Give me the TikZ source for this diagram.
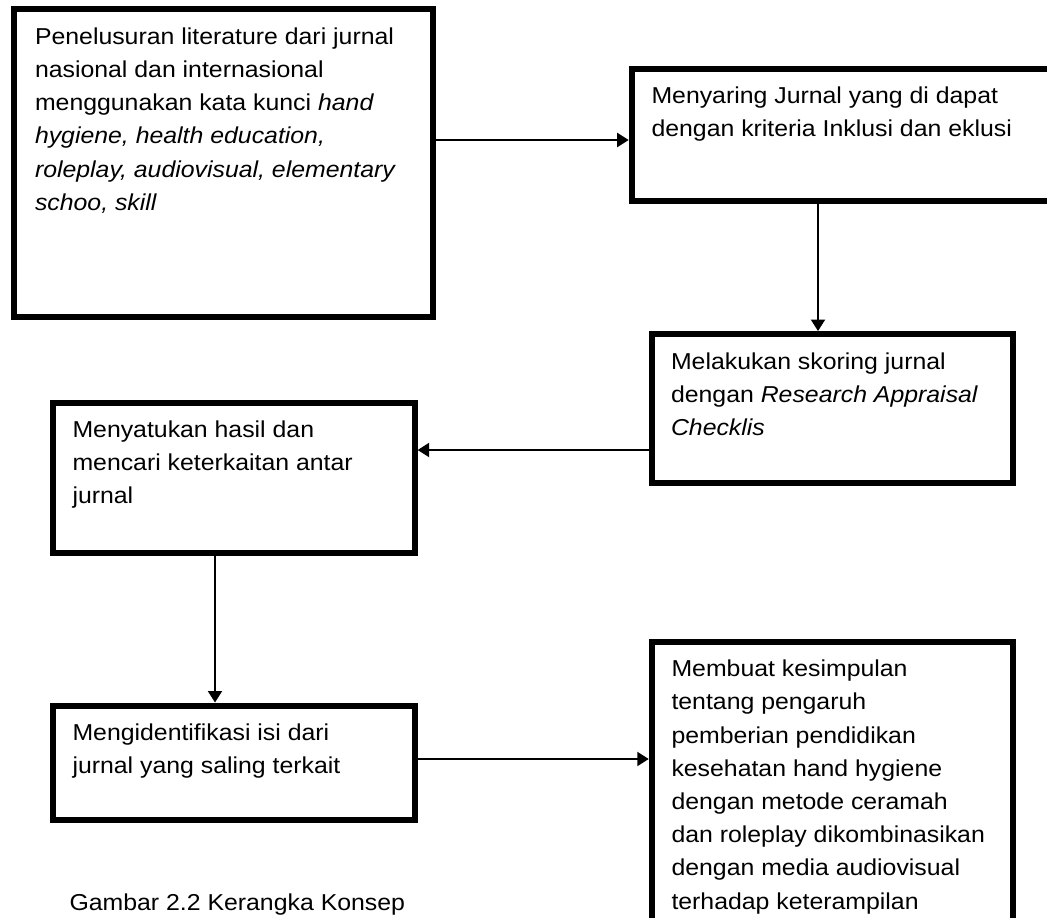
\documentclass[tikz,border=0pt]{standalone}
\usepackage{fontspec}
\setmainfont[FakeStretch=1.08]{Liberation Sans}
\usetikzlibrary{arrows.meta}
\tikzset{
  boxnode/.style={draw=black, line width=6pt, inner sep=0pt, outer sep=3pt, rectangle},
  lbl/.style={anchor=base west, inner sep=0pt, outer sep=0pt, font=\fontsize{23}{33.2}\selectfont},
  arr/.style={draw=black, line width=2pt, -{Triangle[length=11.5pt,width=14pt]}}
}
\begin{document}
\begin{tikzpicture}[x=1pt,y=-1pt]
\useasboundingbox (0,0) rectangle (1047,918);
\fill[white] (0,0) rectangle (1047,918);
\clip (0,0) rectangle (1047,918);

% boxes
\node[boxnode, minimum width=418.7pt, minimum height=307.7pt] (b1) at (223.7,163.2) {};
\node[boxnode, minimum width=438.3pt, minimum height=132pt] (b2) at (850.85,135) {};
\node[boxnode, minimum width=361.3pt, minimum height=149.3pt] (b3) at (832.4,408.7) {};
\node[boxnode, minimum width=361.7pt, minimum height=150.6pt] (b4) at (233.8,478) {};
\node[boxnode, minimum width=361.7pt, minimum height=114.8pt] (b5) at (233.8,762.9) {};
\node[boxnode, minimum width=361.3pt, minimum height=358.3pt] (b6) at (832.4,820.85) {};

% texts
\node[lbl] (t1) at (35,44.3) {\parbox[t]{420pt}{\raggedright
Penelusuran literature dari jurnal\\
nasional dan internasional\\
menggunakan kata kunci \textit{hand}\\
\textit{hygiene, health education,}\\
\textit{roleplay, audiovisual, elementary}\\
\textit{schoo, skill}}};
\node[lbl] (t2) at (651.5,103.3) {\parbox[t]{420pt}{\raggedright
Menyaring Jurnal yang di dapat\\
dengan kriteria Inklusi dan eklusi}};
\node[lbl] (t3) at (671,369.3) {\parbox[t]{360pt}{\raggedright
Melakukan skoring jurnal\\
dengan \textit{Research Appraisal}\\
\textit{Checklis}}};
\node[lbl] (t4) at (72.5,437.3) {\parbox[t]{360pt}{\raggedright
Menyatukan hasil dan\\
mencari keterkaitan antar\\
jurnal}};
\node[lbl] (t5) at (72.5,740) {\parbox[t]{360pt}{\raggedright
Mengidentifikasi isi dari\\
jurnal yang saling terkait}};
\node[lbl] (t6) at (671.5,676.7) {\parbox[t]{360pt}{\raggedright
Membuat kesimpulan\\
tentang pengaruh\\
pemberian pendidikan\\
kesehatan hand hygiene\\
dengan metode ceramah\\
dan roleplay dikombinasikan\\
dengan media audiovisual\\
terhadap keterampilan}};
\node[lbl] (cap) at (69.5,910) {Gambar 2.2 Kerangka Konsep};

% connector heights
\coordinate (c1) at (0,140);
\coordinate (c2) at (818,0);
\coordinate (c3) at (0,450);
\coordinate (c4) at (215,0);
\coordinate (c5) at (0,759);

\draw[arr] (b1.east |- c1) -- (b2.west |- c1);
\draw[arr] (b2.south -| c2) -- (b3.north -| c2);
\draw[arr] (b3.west |- c3) -- (b4.east |- c3);
\draw[arr] (b4.south -| c4) -- (b5.north -| c4);
\draw[arr] (b5.east |- c5) -- (b6.west |- c5);
\end{tikzpicture}
\end{document}
